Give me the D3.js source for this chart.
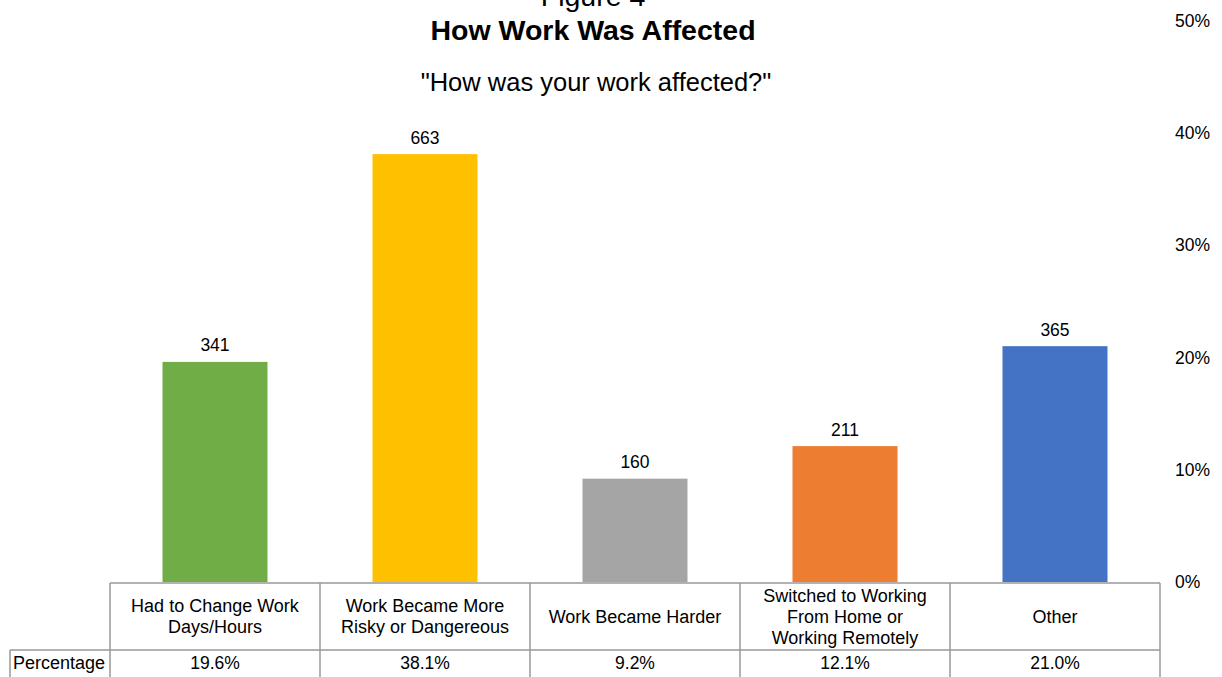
<!DOCTYPE html>
<html>
<head>
<meta charset="utf-8">
<script src="https://cdn.jsdelivr.net/npm/d3@7/dist/d3.min.js"></script>
<style>
  html, body { margin: 0; padding: 0; background: #fff; }
  svg { display: block; font-family: "Liberation Sans", Arial, sans-serif; }
</style>
</head>
<body>
<svg id="chart" width="1222" height="677"></svg>
<script>
// Responses to "How was your work affected?"
const categories = [
  ["Had to Change Work", "Days/Hours"],
  ["Work Became More", "Risky or Dangereous"],
  ["Work Became Harder"],
  ["Switched to Working", "From Home or", "Working Remotely"],
  ["Other"]
];
const counts = [341, 663, 160, 211, 365];
const percentages = [19.6, 38.1, 9.2, 12.1, 21.0];
const barColors = ["#70AD47", "#FFC000", "#A5A5A5", "#ED7D31", "#4472C4"];
const yTicks = [0, 10, 20, 30, 40, 50];

const svg = d3.select("#chart");

// Plot area
const plotLeft = 110, plotRight = 1160, plotTop = 20.5, plotBase = 582;
const tableTop = 583, rowSplit = 650, tableBottom = 690;

const x = d3.scaleBand()
  .domain(d3.range(categories.length))
  .range([plotLeft, plotRight])
  .paddingInner(0.5)
  .paddingOuter(0.25);

const y = d3.scaleLinear().domain([0, 50]).range([plotBase, plotTop]);

// Titles
const titleX = 593;
svg.append("text").attr("x", titleX).attr("y", 6)
  .attr("text-anchor", "middle").attr("font-size", 28.5).attr("fill", "#000")
  .text("Figure 4");
svg.append("text").attr("x", titleX).attr("y", 39.5)
  .attr("text-anchor", "middle").attr("font-size", 28.5).attr("font-weight", "bold").attr("fill", "#000")
  .text("How Work Was Affected");
svg.append("text").attr("x", titleX + 3).attr("y", 91)
  .attr("text-anchor", "middle").attr("font-size", 25.5).attr("fill", "#000")
  .text("\"How was your work affected?\"");

// Right-hand percentage axis (labels only)
const axis = svg.append("g")
  .attr("transform", "translate(1168,0)")
  .call(d3.axisRight(y).tickValues(yTicks).tickFormat(d => d + "%").tickSize(0).tickPadding(7));
axis.select(".domain").remove();
axis.selectAll("text")
  .attr("font-size", 17.5)
  .attr("font-family", "\"Liberation Sans\", Arial, sans-serif")
  .attr("fill", "#000");

// Bars
svg.append("g").selectAll("rect")
  .data(percentages)
  .join("rect")
  .attr("x", (d, i) => x(i))
  .attr("width", x.bandwidth())
  .attr("y", d => y(d))
  .attr("height", d => plotBase - y(d))
  .attr("fill", (d, i) => barColors[i]);

// Count labels above bars
svg.append("g").selectAll("text")
  .data(percentages)
  .join("text")
  .attr("x", (d, i) => x(i) + x.bandwidth() / 2)
  .attr("y", d => y(d) - 10.5)
  .attr("text-anchor", "middle")
  .attr("font-size", 17.5)
  .attr("fill", "#000")
  .text((d, i) => counts[i]);

// Data table below the plot
const step = x.step();
const colLeft = i => plotLeft + i * step;
const grid = svg.append("g").attr("stroke", "#999").attr("stroke-width", 1.5).attr("fill", "none");

grid.append("line").attr("x1", plotLeft).attr("x2", plotRight).attr("y1", tableTop).attr("y2", tableTop);
grid.append("line").attr("x1", 10).attr("x2", plotRight).attr("y1", rowSplit).attr("y2", rowSplit);
grid.append("line").attr("x1", 10).attr("x2", 10).attr("y1", rowSplit).attr("y2", tableBottom);
d3.range(categories.length + 1).forEach(i => {
  grid.append("line").attr("x1", colLeft(i)).attr("x2", colLeft(i))
    .attr("y1", tableTop).attr("y2", tableBottom);
});

// Category names
const lineH = 21;
const headMid = (tableTop + rowSplit) / 2;
categories.forEach((lines, i) => {
  const cx = colLeft(i) + step / 2;
  const t = svg.append("text")
    .attr("text-anchor", "middle").attr("font-size", 18).attr("fill", "#000");
  lines.forEach((ln, j) => {
    t.append("tspan")
      .attr("x", cx)
      .attr("y", headMid + (j - (lines.length - 1) / 2) * lineH + 6)
      .text(ln);
  });
});

// Percentage row
svg.append("text").attr("x", 13).attr("y", 669)
  .attr("font-size", 18).attr("fill", "#000").text("Percentage");
svg.append("g").selectAll("text")
  .data(percentages)
  .join("text")
  .attr("x", (d, i) => colLeft(i) + step / 2)
  .attr("y", 669)
  .attr("text-anchor", "middle")
  .attr("font-size", 17.5)
  .attr("fill", "#000")
  .text(d => d.toFixed(1) + "%");
</script>
</body>
</html>
